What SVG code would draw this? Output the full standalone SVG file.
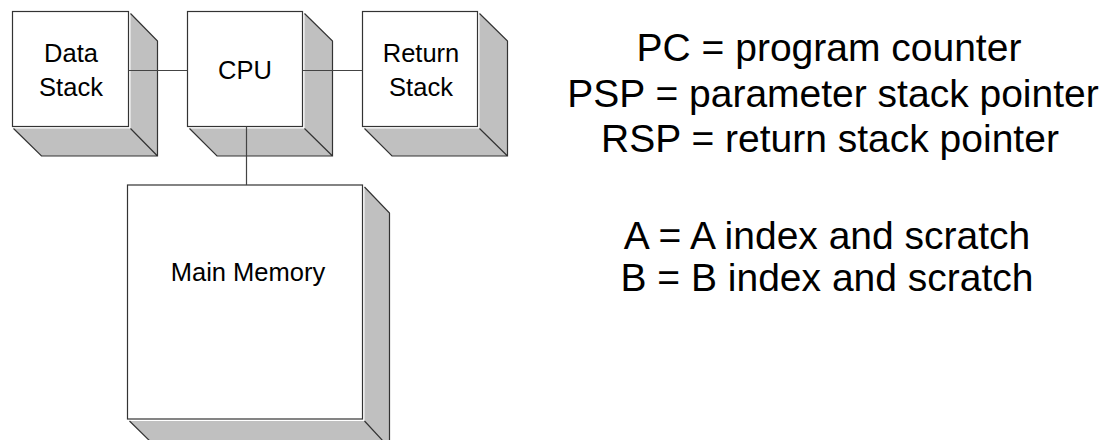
<svg xmlns="http://www.w3.org/2000/svg" width="1101" height="440" viewBox="0 0 1101 440">
<style>
.front{fill:#fff;stroke:#333;stroke-width:1.2}
.ext{fill:#c0c0c0;stroke:none}
.edge{fill:none;stroke:#333;stroke-width:1.2}
.conn{fill:none;stroke:#444;stroke-width:1.2}
.lbl{font-family:"Liberation Sans",Arial,sans-serif;font-size:25.5px;fill:#000;text-anchor:middle}
.note{font-family:"Liberation Sans",Arial,sans-serif;font-size:39px;fill:#000;text-anchor:middle}
</style>
<rect width="1101" height="440" fill="#fff"/>
<g id="data-stack">
<polygon class="ext" points="130.5,13.5 157.5,41 157.5,156 41.5,156 13.5,128.5 130.5,128.5"/>
<path class="edge" d="M130.5,13.5 L157.5,41 L157.5,156 L41.5,156 L13.5,128.5 M130.5,128.5 L157.5,156"/>
<rect class="front" x="12.5" y="11.5" width="116" height="115"/>
<text class="lbl" x="71" y="62">Data</text>
<text class="lbl" x="71" y="96">Stack</text>
</g>
<g id="cpu">
<polygon class="ext" points="304.5,13.5 332.5,41 332.5,156 217,156 189.5,128.5 304.5,128.5"/>
<path class="edge" d="M304.5,13.5 L332.5,41 L332.5,156 L217,156 L189.5,128.5 M304.5,128.5 L332.5,156"/>
<rect class="front" x="187.5" y="11.5" width="115" height="115"/>
<text class="lbl" x="245" y="79">CPU</text>
</g>
<g id="return-stack">
<polygon class="ext" points="479.5,13.5 507.5,41 507.5,156 392,156 364.5,128.5 479.5,128.5"/>
<path class="edge" d="M479.5,13.5 L507.5,41 L507.5,156 L392,156 L364.5,128.5 M479.5,128.5 L507.5,156"/>
<rect class="front" x="362.5" y="11.5" width="115" height="115"/>
<text class="lbl" x="421" y="62">Return</text>
<text class="lbl" x="421" y="96">Stack</text>
</g>
<g id="main-memory">
<polygon class="ext" points="364.5,187 389.5,213 389.5,448 157,448 129.5,421 364.5,421"/>
<path class="edge" d="M364.5,187 L389.5,213 L389.5,448 M157,448 L129.5,421 M364.5,421 L389.5,448"/>
<rect class="front" x="127.5" y="185" width="235" height="234"/>
<text class="lbl" x="248" y="281">Main Memory</text>
</g>
<g id="connectors">
<line class="conn" x1="128.5" y1="70.5" x2="187.5" y2="70.5"/>
<line class="conn" x1="302.5" y1="70.5" x2="362.5" y2="70.5"/>
<line class="conn" x1="246.5" y1="126.5" x2="246.5" y2="185"/>
</g>
<g id="legend">
<text class="note" x="829" y="61">PC = program counter</text>
<text class="note" x="833" y="107">PSP = parameter stack pointer</text>
<text class="note" x="830" y="152">RSP = return stack pointer</text>
<text class="note" x="827" y="249">A = A index and scratch</text>
<text class="note" x="827" y="291">B = B index and scratch</text>
</g>
</svg>
